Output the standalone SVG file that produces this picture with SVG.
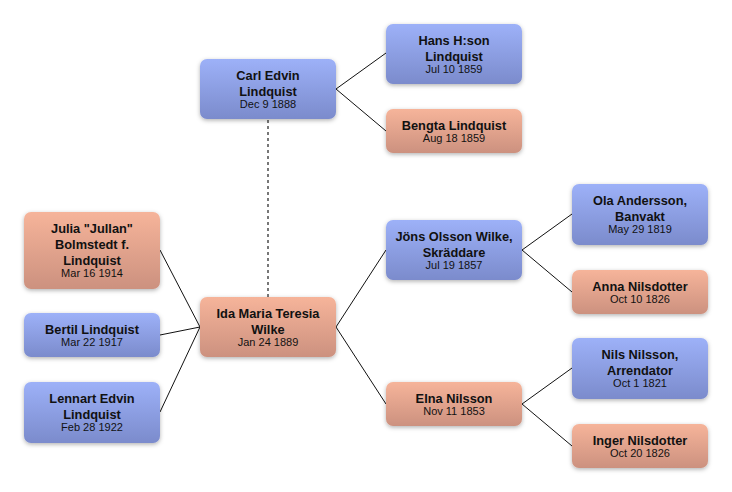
<svg xmlns="http://www.w3.org/2000/svg" width="732" height="492" viewBox="0 0 732 492">
<defs>
<linearGradient id="gBlue" x1="0" y1="0" x2="0" y2="1">
<stop offset="0" stop-color="#9db1f8"/>
<stop offset="1" stop-color="#7b8bcc"/>
</linearGradient>
<linearGradient id="gPink" x1="0" y1="0" x2="0" y2="1">
<stop offset="0" stop-color="#f6b49a"/>
<stop offset="1" stop-color="#cc917f"/>
</linearGradient>
<filter id="sh" x="-20%" y="-20%" width="140%" height="150%">
<feDropShadow dx="0" dy="1.5" stdDeviation="2" flood-color="#000" flood-opacity="0.3"/>
</filter>
</defs>
<style>
.box{filter:url(#sh)}
.m rect{fill:url(#gBlue)}
.f rect{fill:url(#gPink)}
text{font-family:"Liberation Sans",Arial,sans-serif;fill:#111;text-anchor:middle}
.n{font-weight:bold;font-size:12.8px}
.d{font-size:11px}
.ln{stroke:#111;stroke-width:1;fill:none}
.dot{stroke:#777;stroke-width:2;stroke-dasharray:3 3;fill:none}
</style>
<rect width="732" height="492" fill="#fff"/>
<g id="connectors">
<line class="dot" x1="268" y1="120" x2="268" y2="297"/>
<polyline class="ln" points="386,53 336,89 386,131"/>
<polyline class="ln" points="160,250 200,327 160,412"/>
<line class="ln" x1="160" y1="335" x2="200" y2="327"/>
<polyline class="ln" points="386,250 336,327 386,404"/>
<polyline class="ln" points="572,214 522,250 572,292"/>
<polyline class="ln" points="572,368 522,404 572,446"/>
</g>
<g id="carl" class="m"><rect class="box" x="200" y="59" width="136" height="60" rx="7"/>
<text class="n" x="268" y="80">Carl Edvin</text><text class="n" x="268" y="96">Lindquist</text><text class="d" x="268" y="108">Dec 9 1888</text></g>
<g id="hans" class="m"><rect class="box" x="386" y="24" width="136" height="60" rx="7"/>
<text class="n" x="454" y="44.5">Hans H:son</text><text class="n" x="454" y="60.5">Lindquist</text><text class="d" x="454" y="73">Jul 10 1859</text></g>
<g id="bengta" class="f"><rect class="box" x="386" y="109" width="136" height="44" rx="7"/>
<text class="n" x="454" y="129.5">Bengta Lindquist</text><text class="d" x="454" y="142">Aug 18 1859</text></g>
<g id="julia" class="f"><rect class="box" x="24" y="212" width="136" height="77" rx="7"/>
<text class="n" x="92" y="233">Julia "Jullan"</text><text class="n" x="92" y="249">Bolmstedt f.</text><text class="n" x="92" y="265">Lindquist</text><text class="d" x="92" y="277">Mar 16 1914</text></g>
<g id="bertil" class="m"><rect class="box" x="24" y="313" width="136" height="44" rx="7"/>
<text class="n" x="92" y="333.5">Bertil Lindquist</text><text class="d" x="92" y="346">Mar 22 1917</text></g>
<g id="lennart" class="m"><rect class="box" x="24" y="382" width="136" height="61" rx="7"/>
<text class="n" x="92" y="403">Lennart Edvin</text><text class="n" x="92" y="419">Lindquist</text><text class="d" x="92" y="431">Feb 28 1922</text></g>
<g id="ida" class="f"><rect class="box" x="200" y="297" width="136" height="60" rx="7"/>
<text class="n" x="268" y="317.5">Ida Maria Teresia</text><text class="n" x="268" y="333.5">Wilke</text><text class="d" x="268" y="346">Jan 24 1889</text></g>
<g id="jons" class="m"><rect class="box" x="386" y="220" width="136" height="60" rx="7"/>
<text class="n" x="454" y="240.5">Jöns Olsson Wilke,</text><text class="n" x="454" y="256.5">Skräddare</text><text class="d" x="454" y="269">Jul 19 1857</text></g>
<g id="elna" class="f"><rect class="box" x="386" y="382" width="136" height="44" rx="7"/>
<text class="n" x="454" y="402.5">Elna Nilsson</text><text class="d" x="454" y="415">Nov 11 1853</text></g>
<g id="ola" class="m"><rect class="box" x="572" y="184" width="136" height="61" rx="7"/>
<text class="n" x="640" y="205">Ola Andersson,</text><text class="n" x="640" y="221">Banvakt</text><text class="d" x="640" y="233">May 29 1819</text></g>
<g id="anna" class="f"><rect class="box" x="572" y="270" width="136" height="44" rx="7"/>
<text class="n" x="640" y="290.5">Anna Nilsdotter</text><text class="d" x="640" y="303">Oct 10 1826</text></g>
<g id="nils" class="m"><rect class="box" x="572" y="338" width="136" height="61" rx="7"/>
<text class="n" x="640" y="359">Nils Nilsson,</text><text class="n" x="640" y="375">Arrendator</text><text class="d" x="640" y="387">Oct 1 1821</text></g>
<g id="inger" class="f"><rect class="box" x="572" y="424" width="136" height="44" rx="7"/>
<text class="n" x="640" y="444.5">Inger Nilsdotter</text><text class="d" x="640" y="457">Oct 20 1826</text></g>
</svg>
